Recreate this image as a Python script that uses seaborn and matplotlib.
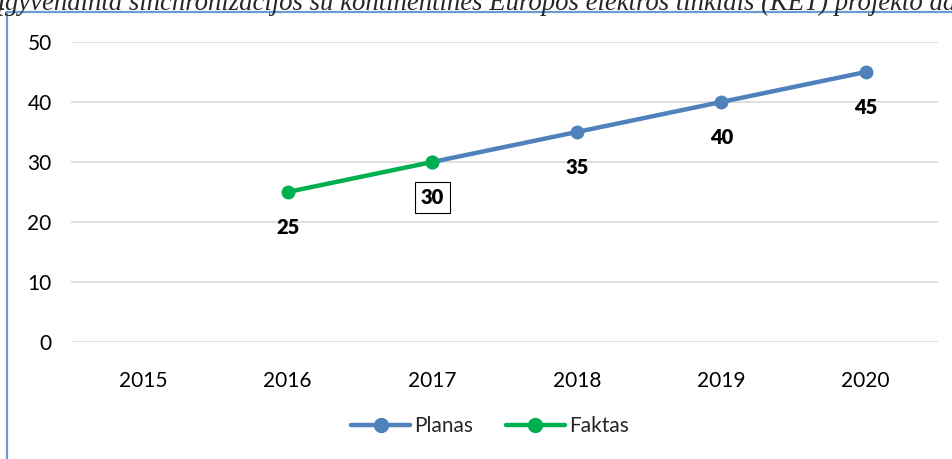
import pandas as pd
import seaborn as sns
import matplotlib.pyplot as plt
from matplotlib.lines import Line2D

# Duomenys
years = [2015, 2016, 2017, 2018, 2019, 2020]
planas_years = [2017, 2018, 2019, 2020]
planas = [30, 35, 40, 45]
faktas_years = [2016, 2017]
faktas = [25, 30]
title = ("Įgyvendinta sinchronizacijos su kontinentinės Europos elektros "
         "tinklais (KET) projekto dalis")

blue = "#4F81BD"
green = "#00B050"

df = pd.concat([
    pd.DataFrame({"year": planas_years, "value": planas, "series": "Planas"}),
    pd.DataFrame({"year": faktas_years, "value": faktas, "series": "Faktas"}),
])

sns.set_style("white")
plt.rcParams["font.family"] = ["Lato", "DejaVu Sans"]

fig = plt.figure(figsize=(9.53, 4.59), dpi=100)
W, H = 953, 459
ax = fig.add_axes([71 / W, 1 - 342 / H, (938 - 71) / W, 300 / H])

sns.lineplot(data=df, x="year", y="value", hue="series",
             palette={"Planas": blue, "Faktas": green},
             marker="o", markersize=10, markeredgewidth=0, linewidth=3.2,
             legend=False, ax=ax, clip_on=False)

ax.set_xlim(2014.5, 2020.5)
ax.set_ylim(0, 50)
ax.set_xticks(years)
ax.set_yticks(range(0, 51, 10))
ax.yaxis.grid(True, color="#D9D9D9", linewidth=1.2)
for s in ax.spines.values():
    s.set_visible(False)
ax.tick_params(axis="both", length=0, labelsize=15, colors="#000000")
ax.tick_params(axis="x", pad=21)
ax.tick_params(axis="y", pad=14)
ax.set_xlabel("")
ax.set_ylabel("")

# Duomenų žymės
lbl = dict(textcoords="offset points", ha="center", va="center",
           fontsize=14.5, fontweight="heavy", color="black")
for yr, v in zip(faktas_years, faktas):
    if yr == 2017:
        ax.annotate(str(v), (yr, v), xytext=(0, -25.5),
                    bbox=dict(boxstyle="square,pad=0.3", fc="white",
                              ec="black", lw=0.8), **lbl)
    else:
        ax.annotate(str(v), (yr, v), xytext=(0, -25.5), **lbl)
for yr, v in zip(planas_years, planas):
    if yr == 2017:
        continue
    ax.annotate(str(v), (yr, v), xytext=(0, -25.5), **lbl)

handles = [Line2D([], [], color=blue, marker="o", markersize=10, lw=3.2),
           Line2D([], [], color=green, marker="o", markersize=10, lw=3.2)]
fig.legend(handles, ["Planas", "Faktas"], loc="center",
           bbox_to_anchor=(490 / W, 1 - 426 / H), ncol=2, frameon=False,
           fontsize=15, handlelength=2.8, handletextpad=0.2, columnspacing=1.6)

# Rėmelis ir nukirptas pavadinimas
fig.add_artist(Line2D([7 / W, 7 / W], [0, 1 - 12 / H], color="#6C9BD2", lw=1.6))
fig.add_artist(Line2D([7 / W, 1], [1 - 12 / H, 1 - 12 / H], color="#6C9BD2", lw=1.6))
fig.text(-4 / W, 1 - 10 / H, title, family="Liberation Serif", style="italic",
         fontsize=19.3, va="baseline", ha="left")

fig.savefig("out.png", dpi=100)
